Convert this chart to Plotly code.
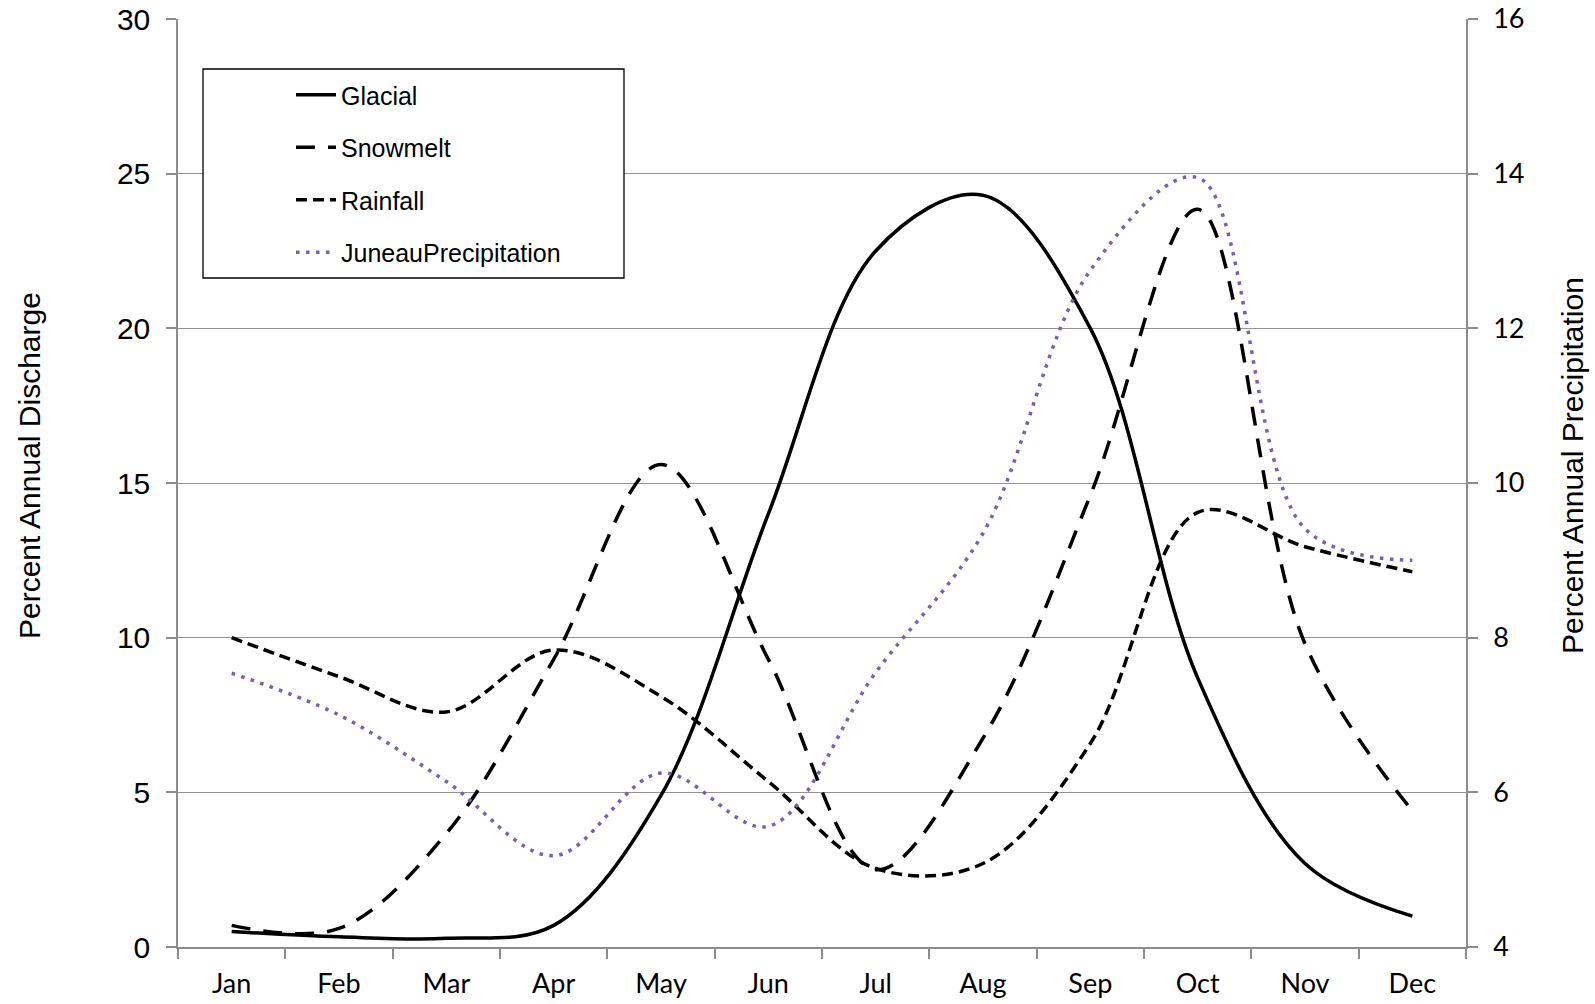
import plotly.graph_objects as go

months = ["Jan", "Feb", "Mar", "Apr", "May", "Jun", "Jul", "Aug", "Sep", "Oct", "Nov", "Dec"]
glacial = [0.5, 0.33, 0.28, 0.7, 4.9, 14.0, 22.5, 24.3, 20.0, 8.7, 2.7, 1.0]
snowmelt = [0.7, 0.6, 3.67, 9.3, 15.6, 9.3, 2.5, 6.75, 14.6, 23.85, 9.8, 4.4]
rainfall = [10.0, 8.74, 7.6, 9.6, 8.1, 5.35, 2.54, 2.7, 6.58, 14.05, 12.94, 12.13]
juneau_precip = [7.54, 7.0, 6.14, 5.18, 6.25, 5.56, 7.55, 9.35, 12.75, 13.95, 9.41, 9.0]

W, H = 1595, 1004
L, R, T, B = 178, 129, 19, 57
pw, ph = W - L - R, H - T - B

def px(x):
    return (x - L) / pw

def py(y):
    return (H - B - y) / ph

grid = "#949494"
axis = "#8c8c8c"

fig = go.Figure()
fig.add_trace(go.Scatter(x=months, y=glacial, name="Glacial", mode="lines", legendgroup="a",
                         line=dict(color="black", width=3.5, shape="spline", smoothing=1)))
fig.add_trace(go.Scatter(x=months, y=snowmelt, name="Snowmelt", mode="lines", legendgroup="b",
                         line=dict(color="black", width=3.5, shape="spline", smoothing=1, dash="19px,13px")))
fig.add_trace(go.Scatter(x=months, y=rainfall, name="Rainfall", mode="lines", legendgroup="c",
                         line=dict(color="black", width=3.5, shape="spline", smoothing=1, dash="11px,6px")))
fig.add_trace(go.Scatter(x=months, y=juneau_precip, name="JuneauPrecipitation", mode="lines", legendgroup="d",
                         yaxis="y2",
                         line=dict(color="#7A5FA6", width=3.5, shape="spline", smoothing=1, dash="3.5px,6.5px")))

fig.update_layout(
    width=W, height=H,
    margin=dict(l=L, r=R, t=T, b=B, autoexpand=False),
    paper_bgcolor="white", plot_bgcolor="white",
    font=dict(family="Liberation Sans, Arial", color="black"),
    xaxis=dict(type="category", categoryorder="array", categoryarray=months,
               range=[-0.5, 11.5], tickson="boundaries", ticks="outside", ticklen=10,
               tickcolor=axis, tickwidth=1.5, showline=True, linecolor=axis, linewidth=1.5,
               showgrid=False, zeroline=False, automargin=False, ticklabelstandoff=12,
               tickfont=dict(family="Lato, Open Sans", size=27, color="black")),
    yaxis=dict(range=[0, 30], dtick=5, ticks="outside", ticklen=10, tickcolor=axis, tickwidth=1.5,
               showline=True, linecolor=axis, linewidth=1.5, showgrid=True, gridcolor=grid,
               gridwidth=1.2, zeroline=False, automargin=False, ticklabelstandoff=10,
               tickfont=dict(family="Liberation Sans, Arial", size=30, color="black")),
    yaxis2=dict(range=[4, 16], dtick=2, overlaying="y", side="right", ticks="outside", ticklen=10,
                tickcolor=axis, tickwidth=1.5, showline=True, linecolor=axis, linewidth=1.5,
                showgrid=False, zeroline=False, automargin=False, ticklabelstandoff=10,
                tickfont=dict(family="Lato, Open Sans", size=27, color="black")),
    showlegend=True,
    legend=dict(x=px(291), y=py(72), xanchor="left", yanchor="top",
                bgcolor="rgba(0,0,0,0)", borderwidth=0,
                font=dict(family="Liberation Sans, Arial", size=25, color="black"),
                tracegroupgap=17, itemwidth=40),
    shapes=[dict(type="rect", xref="paper", yref="paper", layer="above",
                 x0=px(203), x1=px(624), y0=py(278), y1=py(69),
                 line=dict(color="black", width=1.3), fillcolor="white")],
    annotations=[
        dict(text="Percent Annual Discharge", xref="paper", yref="paper",
             x=px(29), y=py(466), xanchor="center", yanchor="middle",
             showarrow=False, textangle=-90,
             font=dict(family="Liberation Sans, Arial", size=30, color="black")),
        dict(text="Percent Annual Precipitation", xref="paper", yref="paper",
             x=px(1572), y=py(466), xanchor="center", yanchor="middle",
             showarrow=False, textangle=-90,
             font=dict(family="Liberation Sans, Arial", size=30, color="black")),
    ],
)

fig.write_html("out.html", config={"displayModeBar": False},
               post_script="document.body.style.margin='0';")
